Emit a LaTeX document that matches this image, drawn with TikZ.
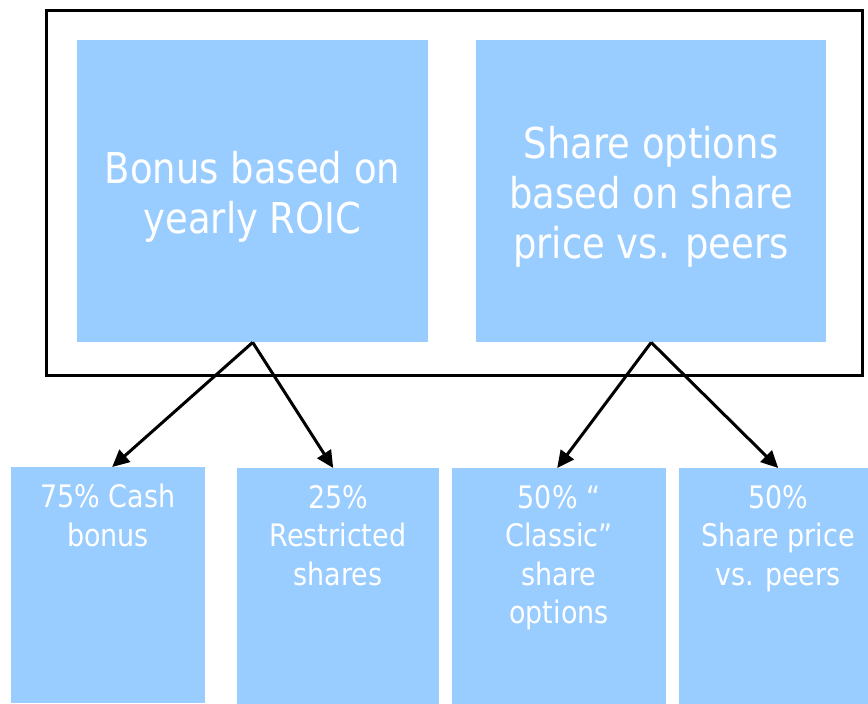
\documentclass[tikz,border=0pt]{standalone}
\usepackage{fontspec}
\setmainfont{DejaVu Sans}[FakeStretch=0.87]
\usetikzlibrary{arrows.meta}
\definecolor{boxblue}{HTML}{99CCFF}
\tikzset{
  bluebox/.style={fill=boxblue, draw=none, inner sep=0pt, anchor=north west},
  bigtxt/.style={text=white, align=center, inner sep=0pt, anchor=north, font=\fontsize{42.5}{50}\selectfont},
  smalltxt/.style={text=white, align=center, inner sep=0pt, anchor=north, font=\fontsize{31}{38.5}\selectfont},
  arr/.style={line width=3pt, -{Triangle[length=17pt,width=16pt]}},
  frame/.style={draw=black, line width=3pt}
}
\begin{document}
\begin{tikzpicture}[x=1pt,y=-1pt]
\useasboundingbox (0,0) rectangle (868,704);
\clip (0,0) rectangle (868,704);
\fill[white] (0,0) rectangle (868,704);
% frame
\node[frame, inner sep=0pt, anchor=north west, minimum width=816pt, minimum height=365pt] (frm) at (45,9) {};
% top boxes
\node[bluebox, minimum width=351pt, minimum height=302pt] (bonus) at (77,40) {};
\node[bluebox, minimum width=350pt, minimum height=302pt] (share) at (476,40) {};
\node[bigtxt] (bonustxt) at (252.5,151) {Bonus based on\\yearly ROIC};
\node[bigtxt] (sharetxt) at (651,126) {Share options\\based on share\\price vs. peers};
% bottom boxes
\node[bluebox, minimum width=194pt, minimum height=236pt] (cash) at (11,467) {};
\node[bluebox, minimum width=202pt, minimum height=236pt] (restr) at (237,468) {};
\node[bluebox, minimum width=214pt, minimum height=236pt] (classic) at (452,468) {};
\node[bluebox, minimum width=198pt, minimum height=236pt] (peers) at (679,468) {};
\node[smalltxt] (cashtxt) at (108,484) {75\% Cash\\bonus};
\node[smalltxt] (restrtxt) at (338,485) {25\%\\Restricted\\shares};
\node[smalltxt] (classictxt) at (559,485) {50\% “\\Classic”\\share\\options};
\node[smalltxt] (peerstxt) at (778,485) {50\%\\Share price\\vs. peers};
% arrows
\draw[arr] (bonus.south) -- ([xshift=4pt]cash.north);
\draw[arr] (bonus.south) -- ([xshift=-5pt]restr.north);
\draw[arr] (share.south) -- ([xshift=-2pt]classic.north);
\draw[arr] (share.south) -- (peers.north);
\end{tikzpicture}
\end{document}
